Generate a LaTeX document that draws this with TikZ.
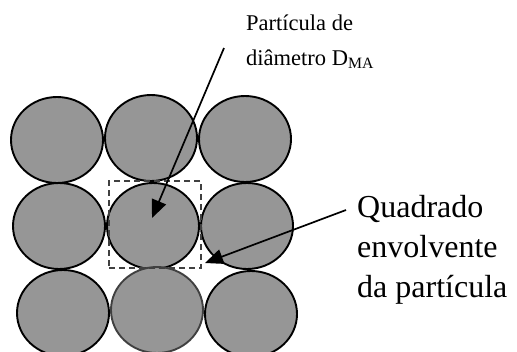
\documentclass[tikz,border=0pt]{standalone}
\usepackage{fontspec}
\setmainfont{Liberation Serif}
\usetikzlibrary{shapes.geometric,arrows.meta,positioning}
\definecolor{particlegray}{RGB}{150,150,150}
\definecolor{darkline}{RGB}{64,64,64}

\begin{document}
\begin{tikzpicture}[
    x=1pt, y=-1pt,
    particle/.style={ellipse, draw, line width=1.9pt, fill=particlegray, minimum width=92pt, minimum height=86pt, inner sep=0pt},
    envbox/.style={rectangle, draw=darkline, dash pattern=on 6pt off 4pt, line width=1.5pt, minimum width=92pt, minimum height=87pt, inner sep=0pt},
    smalltext/.style={anchor=base west, inner sep=0pt, align=left, font=\fontsize{22.5}{35}\selectfont},
    bigtext/.style={anchor=base west, inner sep=0pt, align=left, font=\fontsize{32}{40}\selectfont},
    arrow/.style={-{Triangle[length=18pt,width=15pt]}, line width=1.7pt}
]
    \useasboundingbox (0,0) rectangle (517,351);

    % Particles
    \node[particle] (p11) at (57,140) {};
    \node[particle] (p12) at (151,138) {};
    \node[particle] (p13) at (245,139) {};
    \node[particle] (p21) at (59,226) {};
    \node[particle] (p22) at (153,226) {};
    \node[particle] (p23) at (247,226) {};
    \node[particle] (p31) at (63,313) {};
    \node[particle, draw=darkline] (p32) at (157,310) {};
    \node[particle] (p33) at (251,314) {};

    % Enclosing square
    \node[envbox] (square) at (155,224.5) {};

    % Labels
    \node[smalltext] (diam) at (246,65) {Partícula de\\diâmetro D\textsubscript{MA}};
    \node[bigtext] (quad) at (357,297) {Quadrado\\envolvente\\da partícula};

    % Arrows
    \coordinate (diamstart) at (224,48);
    \coordinate (diamtip) at (152,218);
    \coordinate (quadstart) at (346,210);
    \coordinate (quadtip) at (205,263);
    \draw[arrow] (diamstart) -- (diamtip);
    \draw[arrow] (quadstart) -- (quadtip);
\end{tikzpicture}
\end{document}
